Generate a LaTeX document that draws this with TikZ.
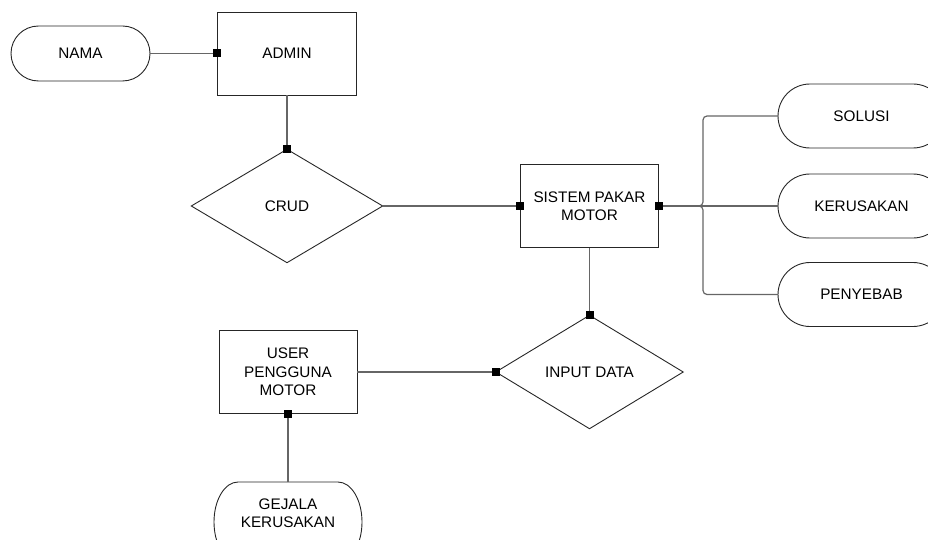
\documentclass[tikz,border=0pt]{standalone}
\usepackage{fontspec}
\setmainfont{Liberation Sans}
\usetikzlibrary{arrows.meta}

% Terminator outline: centre x, centre y, width, height, end radius (x)
\newcommand\terminal[5]{%
  \draw[outline] ({#1-#3/2+#5},{#2-#4/2}) -- ({#1+#3/2-#5},{#2-#4/2})
    arc[start angle=-90, end angle=90, x radius=#5, y radius=#4/2]
    -- ({#1-#3/2+#5},{#2+#4/2})
    arc[start angle=90, end angle=270, x radius=#5, y radius=#4/2] -- cycle;}

\begin{document}
\begin{tikzpicture}[x=1pt, y=-1pt,
  every node/.style={font=\fontsize{15.3}{18.3}\selectfont, align=center, inner sep=0pt, text=black},
  outline/.style={draw=black!85, line width=0.9pt},
  box/.style={outline, minimum width=139pt, minimum height=83pt},
  area/.style 2 args={minimum width=#1pt, minimum height=#2pt},
  link/.style={draw=black!60, line width=1.2pt},
  joint/.style={-{Square[length=8pt, width=8pt, color=black]}, shorten >=-4pt},
]
\useasboundingbox (0,0) rectangle (928,540);
\clip (0,0) rectangle (928,540);

% entities
\node[box] (admin) at (287,53.5) {ADMIN};
\node[box, minimum width=138pt] (sistem) at (589.5,206) {SISTEM PAKAR\\MOTOR};
\node[box, minimum width=138pt] (user) at (288,372) {USER\\PENGGUNA\\MOTOR};

% relations
\node[area={191}{113}] (crud) at (287,206) {CRUD};
\draw[outline] (crud.north) -- (crud.east) -- (crud.south) -- (crud.west) -- cycle;
\node[area={187}{113}] (input) at (589.5,372) {INPUT DATA};
\draw[outline] (input.north) -- (input.east) -- (input.south) -- (input.west) -- cycle;

% attributes
\node[area={139}{55}] (nama) at (80.5,53.5) {NAMA};
\terminal{80.5}{53.5}{139}{55}{27.5}
\node[area={167}{64}] (solusi) at (861.5,116) {SOLUSI};
\terminal{861.5}{116}{167}{64}{32}
\node[area={167}{64}] (kerusakan) at (861.5,206) {KERUSAKAN};
\terminal{861.5}{206}{167}{64}{32}
\node[area={167}{64}] (penyebab) at (861.5,294.5) {PENYEBAB};
\terminal{861.5}{294.5}{167}{64}{32}
\node[area={148}{62}] (gejala) at (288,513) {GEJALA\\KERUSAKAN};
\terminal{288}{522}{148}{80}{24}

% connectors
\draw[link, joint] (nama.east) -- (admin.west);
\draw[link, joint] (admin.south) -- (crud.north);
\draw[link, joint] (crud.east) -- (sistem.west);
\draw[link, joint] (sistem.south) -- (input.north);
\draw[link, joint] (user.east) -- (input.west);
\draw[link, joint] (gejala.north) -- (user.south);

\coordinate (fork) at (703,206);
\draw[link, rounded corners=4pt] (solusi.west) -| (fork) -- (sistem.east);
\draw[link, rounded corners=4pt] (penyebab.west) -| (fork) -- (sistem.east);
\draw[link, joint] (kerusakan.west) -- (sistem.east);
\end{tikzpicture}
\end{document}
